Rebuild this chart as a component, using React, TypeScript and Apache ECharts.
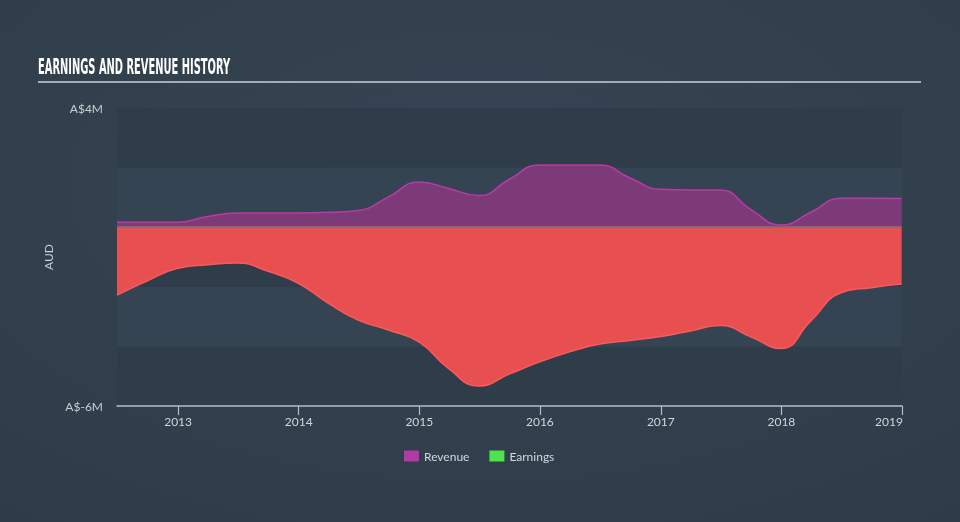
import React, { useEffect, useRef } from "react";
import * as echarts from "echarts";

const dates = [
  "2012-06-30", "2012-09-30", "2012-12-31", "2013-03-31", "2013-06-30", "2013-09-30",
  "2013-12-31", "2014-03-31", "2014-06-30", "2014-09-30", "2014-12-31", "2015-03-31",
  "2015-06-30", "2015-09-30", "2015-12-31", "2016-03-31", "2016-06-30", "2016-09-30",
  "2016-12-31", "2017-03-31", "2017-06-30", "2017-09-30", "2017-12-31", "2018-03-31",
  "2018-06-30", "2018-09-30", "2018-12-31",
];

const revenue = [
  0.17, 0.17, 0.17, 0.36, 0.48, 0.48,
  0.48, 0.5, 0.56, 1.02, 1.52, 1.3,
  1.06, 1.6, 2.09, 2.09, 2.09, 1.65,
  1.27, 1.25, 1.25, 0.6, 0.07, 0.5,
  0.97, 0.97, 0.96,
];

const earnings = [
  -2.28, -1.8, -1.38, -1.26, -1.2, -1.48,
  -1.88, -2.55, -3.12, -3.45, -3.85, -4.75,
  -5.33, -4.93, -4.52, -4.18, -3.92, -3.8,
  -3.67, -3.48, -3.3, -3.68, -4.07, -3.15,
  -2.2, -2.03, -1.91,
];

const yearTicks = [
  "2013-01-01", "2014-01-01", "2015-01-01", "2016-01-01",
  "2017-01-01", "2018-01-01", "2019-01-01",
];

const xStart = "2012-06-30";
const xEnd = "2019-01-01";

const yTickLabels: Record<number, string> = { 4: "A$4M", [-6]: "A$-6M" };

export default function App() {
  const ref = useRef<HTMLDivElement>(null);
  useEffect(() => {
    if (!ref.current) return;
    const chart = echarts.init(ref.current, null, { renderer: "svg" });
    const ts = (d: string) => +echarts.time.parse(d);
    const tickValues = yearTicks.map(ts);
    const lastTick = tickValues[tickValues.length - 1];
    chart.setOption({
      animation: false,
      backgroundColor: {
        type: "radial",
        x: 0.5,
        y: 0.35,
        r: 0.8,
        colorStops: [
          { offset: 0, color: "#364554" },
          { offset: 1, color: "#2f3b48" },
        ],
      },
      textStyle: { fontFamily: "Lato, 'Open Sans', sans-serif" },
      graphic: [
        {
          type: "text",
          left: 38,
          top: 55,
          scaleX: 0.5,
          style: {
            text: "EARNINGS AND REVENUE HISTORY",
            fill: "#ffffff",
            font: "bold 22px 'DejaVu Sans Condensed', 'DejaVu Sans', sans-serif",
          },
        },
        {
          type: "rect",
          shape: { x: 38, y: 81, width: 883, height: 2 },
          style: { fill: "#a3abb4" },
        },
      ],
      grid: { left: 117, right: 58, top: 108, bottom: 116 },
      legend: {
        bottom: 55,
        left: 399,
        icon: "rect",
        itemWidth: 15,
        itemHeight: 11,
        itemGap: 20,
        textStyle: { color: "#d4d8dd", fontSize: 12 },
        data: [
          { name: "Revenue", itemStyle: { color: "#b23aa3" } },
          { name: "Earnings", itemStyle: { color: "#4fe24f" } },
        ],
      },
      xAxis: {
        type: "value",
        min: ts(xStart),
        max: ts(xEnd),
        z: 5,
        axisLine: { onZero: false, lineStyle: { color: "#b3bdc8", width: 1.5 } },
        axisTick: {
          show: true,
          length: 9,
          customValues: tickValues,
          lineStyle: { color: "#b3bdc8", width: 1.2 },
        },
        axisLabel: {
          color: "#d0d5da",
          fontSize: 12,
          margin: 9,
          customValues: tickValues,
          formatter: (v: number) => {
            const y = String(new Date(v).getFullYear());
            return v === lastTick ? "{last|" + y + "}" : y;
          },
          rich: {
            last: { color: "#d0d5da", fontSize: 12, padding: [0, 26, 0, 0] },
          },
        },
        splitLine: { show: false },
      },
      yAxis: {
        type: "value",
        min: -6,
        max: 4,
        interval: 2,
        name: "AUD",
        nameLocation: "middle",
        nameGap: 52,
        nameTextStyle: { color: "#c8ced4", fontSize: 12 },
        axisLine: { show: false },
        axisTick: { show: false },
        axisLabel: {
          color: "#c8ced4",
          fontSize: 12,
          margin: 14,
          formatter: (v: number) => yTickLabels[v] ?? "",
        },
        splitLine: { show: false },
        splitArea: {
          show: true,
          areaStyle: { color: ["#2f3c4a", "#354453"] },
        },
      },
      series: [
        {
          name: "Revenue",
          type: "line",
          data: dates.map((d, i) => [ts(d), revenue[i]]),
          smooth: 0.5,
          showSymbol: false,
          lineStyle: { color: "#b93aa3", width: 1.5 },
          itemStyle: { color: "#b23aa3" },
          areaStyle: { color: "#7d3a78", opacity: 1 },
          z: 3,
        },
        {
          name: "Earnings",
          type: "line",
          data: dates.map((d, i) => [ts(d), earnings[i]]),
          smooth: 0.5,
          showSymbol: false,
          lineStyle: { color: "#ff5858", width: 1.5 },
          itemStyle: { color: "#4fe24f" },
          areaStyle: { color: "#e84f51", opacity: 1 },
          markLine: {
            silent: true,
            symbol: "none",
            label: { show: false },
            lineStyle: { color: "#8f7070", width: 1.5, type: "solid" },
            data: [{ yAxis: 0 }],
          },
          z: 2,
        },
      ],
    });
    return () => chart.dispose();
  }, []);
  return (
    <div
      ref={ref}
      style={{ position: "fixed", left: 0, top: 0, width: 960, height: 522 }}
    />
  );
}
